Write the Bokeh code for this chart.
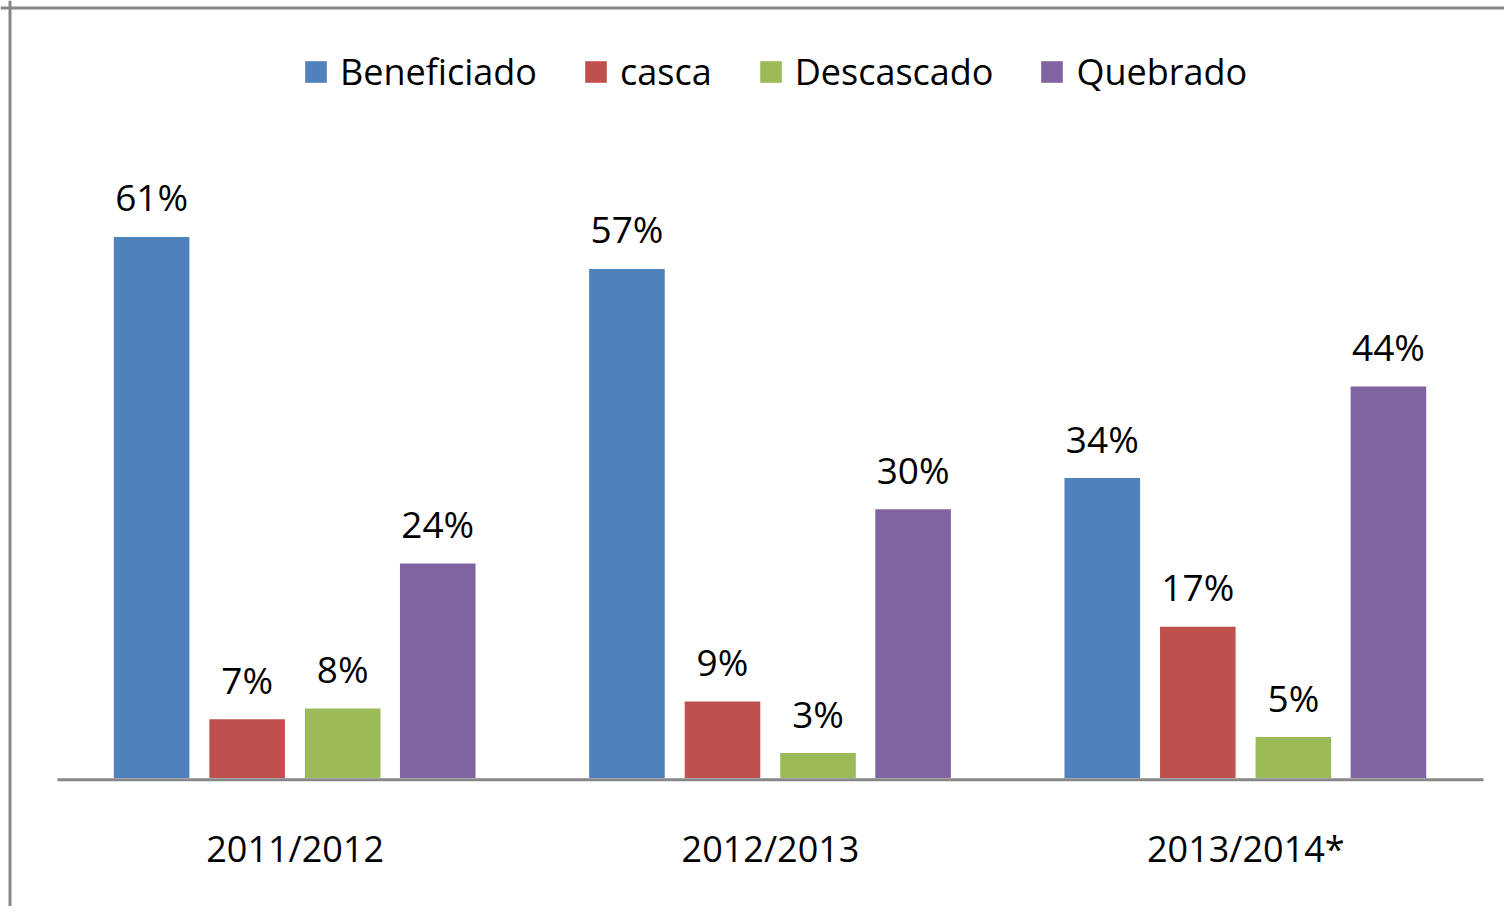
from bokeh.plotting import figure
from bokeh.models import ColumnDataSource, Range1d, Span
from bokeh.transform import dodge
from bokeh.core.properties import value
from bokeh.embed import file_html
from bokeh.resources import INLINE

# ---- data ----
categories = ["2011/2012", "2012/2013", "2013/2014*"]
series = ["Beneficiado", "casca", "Descascado", "Quebrado"]
beneficiado = [60.8, 57.2, 33.7]
casca = [6.6, 8.6, 17.0]
descascado = [7.8, 2.8, 4.6]
quebrado = [24.1, 30.2, 44.0]
colors = ["#4F81BD", "#C0504D", "#9BBB59", "#8064A2"]

FONT = "Open Sans"
W, H = 1504, 906

p = figure(width=W, height=H, output_backend="svg", toolbar_location=None,
           x_range=Range1d(-0.1199, 3.0442), y_range=Range1d(-14.44, 87.36),
           x_axis_location=None, y_axis_location=None,
           min_border=0, min_border_left=0, min_border_right=0,
           min_border_top=0, min_border_bottom=0)
p.grid.visible = False
p.outline_line_color = None
p.background_fill_color = "white"
p.border_fill_color = "white"

xc = [i + 0.5 for i in range(len(categories))]
data = dict(x=xc, cat=categories)
vals = [beneficiado, casca, descascado, quebrado]
for name, v in zip(series, vals):
    data[name] = v
    data[name + "_lbl"] = [f"{a:.0f}%" for a in v]
src = ColumnDataSource(data)

offsets = [-0.302, -0.101, 0.1, 0.3]
for name, v, c, off in zip(series, vals, colors, offsets):
    p.vbar(x=dodge("x", off), top=name, bottom=0, width=0.159, source=src,
           fill_color=c, line_color=None, legend_label=name)
    p.text(x=dodge("x", off), y=name, text=name + "_lbl", source=src,
           text_align="center", text_baseline="alphabetic", y_offset=-40,
           text_font=value(FONT), text_font_size="37px", text_color="black")

# baseline axis line
p.segment(x0=[0], y0=[-0.2], x1=[len(categories)], y1=[-0.2],
          line_color="#878787", line_width=3)
# category labels
p.text(x="x", y=0, text="cat", source=src, text_align="center",
       text_baseline="alphabetic", y_offset=71, text_font=value(FONT),
       text_font_size="36px", text_color="black")

# chart border (left and top)
p.add_layout(Span(location=9.5, location_units="screen", dimension="height",
                  line_color="#878787", line_width=3))
p.add_layout(Span(location=H - 7.5, location_units="screen", dimension="width",
                  line_color="#878787", line_width=3))

leg = p.legend[0]
leg.orientation = "horizontal"
leg.location = (302, 810)
leg.border_line_color = None
leg.background_fill_alpha = 0
leg.label_text_font = FONT
leg.label_text_font_size = "36px"
leg.label_text_color = "black"
leg.glyph_width = 27
leg.glyph_height = 27
leg.label_standoff = 11
leg.spacing = 45
leg.padding = 10
leg.margin = 0

open("out.html", "w").write(file_html(p, INLINE))
